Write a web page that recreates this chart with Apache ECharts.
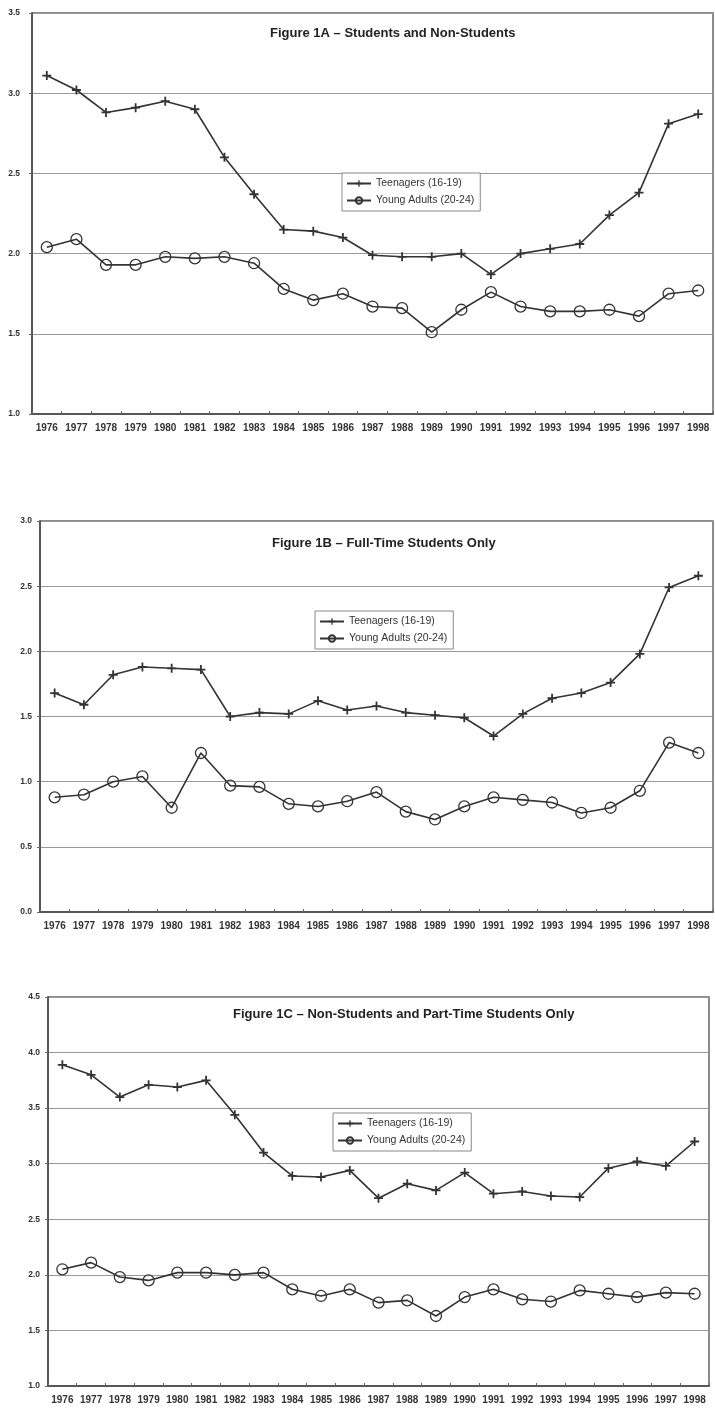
<!DOCTYPE html>
<html>
<head>
<meta charset="utf-8">
<script src="https://cdn.jsdelivr.net/npm/echarts@6/dist/echarts.min.js"></script>
<style>
  html, body { margin: 0; padding: 0; background: #fff; }
  #chart { width: 715px; height: 1408px; }
</style>
</head>
<body>
<div id="chart"></div>
<script>
// Years on the category axis (shared by all three panels)
const years = ['1976','1977','1978','1979','1980','1981','1982','1983','1984','1985','1986',
               '1987','1988','1989','1990','1991','1992','1993','1994','1995','1996','1997','1998'];

const seriesNames = ['Teenagers (16-19)', 'Young Adults (20-24)'];

const panelTitles = [
  'Figure 1A \u2013 Students and Non-Students',
  'Figure 1B \u2013 Full-Time Students Only',
  'Figure 1C \u2013 Non-Students and Part-Time Students Only'
];

// Figure 1A – Students and Non-Students
const teensA  = [3.11, 3.02, 2.88, 2.91, 2.95, 2.90, 2.60, 2.37, 2.15, 2.14, 2.10,
                 1.99, 1.98, 1.98, 2.00, 1.87, 2.00, 2.03, 2.06, 2.24, 2.38, 2.81, 2.87];
const adultsA = [2.04, 2.09, 1.93, 1.93, 1.98, 1.97, 1.98, 1.94, 1.78, 1.71, 1.75,
                 1.67, 1.66, 1.51, 1.65, 1.76, 1.67, 1.64, 1.64, 1.65, 1.61, 1.75, 1.77];

// Figure 1B – Full-Time Students Only
const teensB  = [1.68, 1.59, 1.82, 1.88, 1.87, 1.86, 1.50, 1.53, 1.52, 1.62, 1.55,
                 1.58, 1.53, 1.51, 1.49, 1.35, 1.52, 1.64, 1.68, 1.76, 1.98, 2.49, 2.58];
const adultsB = [0.88, 0.90, 1.00, 1.04, 0.80, 1.22, 0.97, 0.96, 0.83, 0.81, 0.85,
                 0.92, 0.77, 0.71, 0.81, 0.88, 0.86, 0.84, 0.76, 0.80, 0.93, 1.30, 1.22];

// Figure 1C – Non-Students and Part-Time Students Only
const teensC  = [3.89, 3.80, 3.60, 3.71, 3.69, 3.75, 3.44, 3.10, 2.89, 2.88, 2.94,
                 2.69, 2.82, 2.76, 2.92, 2.73, 2.75, 2.71, 2.70, 2.96, 3.02, 2.98, 3.20];
const adultsC = [2.05, 2.11, 1.98, 1.95, 2.02, 2.02, 2.00, 2.02, 1.87, 1.81, 1.87,
                 1.75, 1.77, 1.63, 1.80, 1.87, 1.78, 1.76, 1.86, 1.83, 1.80, 1.84, 1.83];

// Value-axis ranges per panel
const yMin = [1.0, 0.0, 1.0];
const yMax = [3.5, 3.0, 4.5];
const yStep = 0.5;

const teens  = [teensA, teensB, teensC];
const adults = [adultsA, adultsB, adultsC];

// Plot-area boxes (px) for each panel
const grids = [
  { left: 32, top: 13,  width: 681, height: 401 },
  { left: 40, top: 521, width: 673, height: 391 },
  { left: 48, top: 997, width: 661, height: 389 }
];
const titlePos  = [ { left: 270, top: 27 }, { left: 272, top: 537 }, { left: 233, top: 1008 } ];
const legendPos = [ { left: 342, top: 173 }, { left: 315, top: 611 }, { left: 333, top: 1113 } ];

const ink = '#333';
const font = '"Liberation Sans", Arial, sans-serif';
const plusPath = 'path://M4,0h2v4h4v2h-4v4h-2v-4h-4v-2h4z';

const option = {
  backgroundColor: '#fff',
  animation: false,
  textStyle: { fontFamily: font },
  title: panelTitles.map((t, i) => ({
    text: t,
    left: titlePos[i].left, top: titlePos[i].top,
    padding: 0,
    textStyle: { fontSize: 13, fontWeight: 'bold', color: '#222', fontFamily: font }
  })),
  legend: legendPos.map((p, i) => ({
    data: seriesNames,
    left: p.left, top: p.top,
    orient: 'vertical',
    backgroundColor: '#fff',
    borderColor: '#888', borderWidth: 1,
    padding: [5, 6, 5, 4],
    itemGap: 6, itemWidth: 24, itemHeight: 8,
    selectedMode: false,
    textStyle: { fontSize: 10.5, color: ink, fontFamily: font }
  })),
  grid: grids.map(g => ({
    left: g.left, top: g.top, width: g.width, height: g.height,
    show: true, borderColor: '#666', borderWidth: 1.5, backgroundColor: '#fff'
  })),
  xAxis: grids.map((g, i) => ({
    type: 'category', gridIndex: i, data: years, boundaryGap: true,
    axisLine: { lineStyle: { color: '#444', width: 1.5 } },
    axisTick: { show: true, inside: true, length: 3, lineStyle: { color: '#666' } },
    axisLabel: { fontSize: 10, fontWeight: 'bold', color: ink, margin: 9, interval: 0 },
    splitLine: { show: false }
  })),
  yAxis: grids.map((g, i) => ({
    type: 'value', gridIndex: i, min: yMin[i], max: yMax[i], interval: yStep,
    axisLine: { show: true, lineStyle: { color: '#444', width: 1.5 } },
    axisTick: { show: true, length: 3, lineStyle: { color: '#666' } },
    axisLabel: { fontSize: 8.5, fontWeight: 'bold', color: ink, margin: i === 0 ? 12 : 8,
                 formatter: v => v.toFixed(1) },
    splitLine: { show: true, lineStyle: { color: '#999', width: 1.2 } }
  })),
  series: []
};

for (let i = 0; i < 3; i++) {
  option.series.push({
    name: seriesNames[0], type: 'line', xAxisIndex: i, yAxisIndex: i,
    data: teens[i],
    symbol: plusPath, symbolSize: 9,
    lineStyle: { color: ink, width: 1.6 },
    itemStyle: { color: ink, borderWidth: 0 }
  });
  option.series.push({
    name: seriesNames[1], type: 'line', xAxisIndex: i, yAxisIndex: i,
    data: adults[i],
    symbol: 'circle', symbolSize: 11,
    lineStyle: { color: ink, width: 1.6 },
    itemStyle: { color: 'rgba(0,0,0,0)', borderColor: ink, borderWidth: 1.3 }
  });
}

const chart = echarts.init(document.getElementById('chart'), null, { renderer: 'canvas' });
chart.setOption(option);
</script>
</body>
</html>
